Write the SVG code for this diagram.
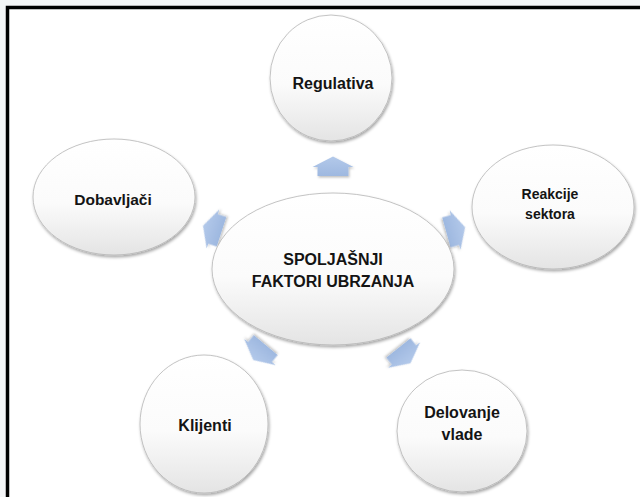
<svg xmlns="http://www.w3.org/2000/svg" width="640" height="497" viewBox="0 0 640 497">
  <defs>
    <linearGradient id="gEll" x1="0" y1="0" x2="0" y2="1">
      <stop offset="0" stop-color="#ffffff"/>
      <stop offset="0.55" stop-color="#fbfbfb"/>
      <stop offset="1" stop-color="#e4e4e4"/>
    </linearGradient>
    <linearGradient id="gArr" x1="0" y1="0" x2="0" y2="1">
      <stop offset="0" stop-color="#b3c9ea"/>
      <stop offset="1" stop-color="#9eb8e0"/>
    </linearGradient>
    <filter id="sh" x="-20%" y="-20%" width="140%" height="140%">
      <feDropShadow dx="1" dy="2" stdDeviation="1.6" flood-color="#000" flood-opacity="0.35"/>
    </filter>
    <filter id="shA" x="-30%" y="-30%" width="160%" height="160%">
      <feDropShadow dx="1" dy="1.5" stdDeviation="1.2" flood-color="#000" flood-opacity="0.25"/>
    </filter>
    <polygon id="arrow" points="0,-10.5 -20.5,0 -15.5,0 -15.5,9 15.5,9 15.5,0 20.5,0"/>
  </defs>
  <style>
    .ell { fill: url(#gEll); stroke: #b5b5b5; stroke-width: 0.8; filter: url(#sh); }
    .arr { fill: url(#gArr); filter: url(#shA); }
    .t { font-family: "Liberation Sans", Arial, sans-serif; font-weight: bold; fill: #141414; text-anchor: middle; font-size: 16px; }
  </style>
  <rect x="0" y="0" width="640" height="497" fill="#f4f5f7"/>
  <rect x="7.5" y="7.5" width="640" height="500" fill="#ffffff" stroke="#000" stroke-width="3.5"/>

  <g id="connectors">
    <use href="#arrow" class="arr" transform="translate(333,167)"/>
    <use href="#arrow" class="arr" transform="translate(213,229) rotate(-72)"/>
    <use href="#arrow" class="arr" transform="translate(455,230) rotate(74.5)"/>
    <use href="#arrow" class="arr" transform="translate(260,352) rotate(219.8)"/>
    <use href="#arrow" class="arr" transform="translate(404,355) rotate(141.5)"/>
  </g>

  <g id="center">
    <ellipse class="ell" cx="333" cy="269" rx="121" ry="76"/>
    <text class="t" x="333" y="265">SPOLJAŠNJI</text>
    <text class="t" x="333" y="287">FAKTORI UBRZANJA</text>
  </g>
  <g id="regulativa">
    <ellipse class="ell" cx="331" cy="78" rx="61" ry="63"/>
    <text class="t" x="333" y="89">Regulativa</text>
  </g>
  <g id="dobavljaci">
    <ellipse class="ell" cx="114" cy="197" rx="81" ry="58"/>
    <text class="t" x="113" y="205" style="font-size:15.5px">Dobavljači</text>
  </g>
  <g id="reakcije">
    <ellipse class="ell" cx="553" cy="207" rx="81" ry="62"/>
    <text class="t" x="550" y="199" style="font-size:14px">Reakcije</text>
    <text class="t" x="550" y="219" style="font-size:14px">sektora</text>
  </g>
  <g id="klijenti">
    <ellipse class="ell" cx="204" cy="424" rx="64" ry="69"/>
    <text class="t" x="205" y="431">Klijenti</text>
  </g>
  <g id="delovanje">
    <ellipse class="ell" cx="462" cy="431" rx="65" ry="61"/>
    <text class="t" x="462" y="418">Delovanje</text>
    <text class="t" x="462" y="440">vlade</text>
  </g>
</svg>
